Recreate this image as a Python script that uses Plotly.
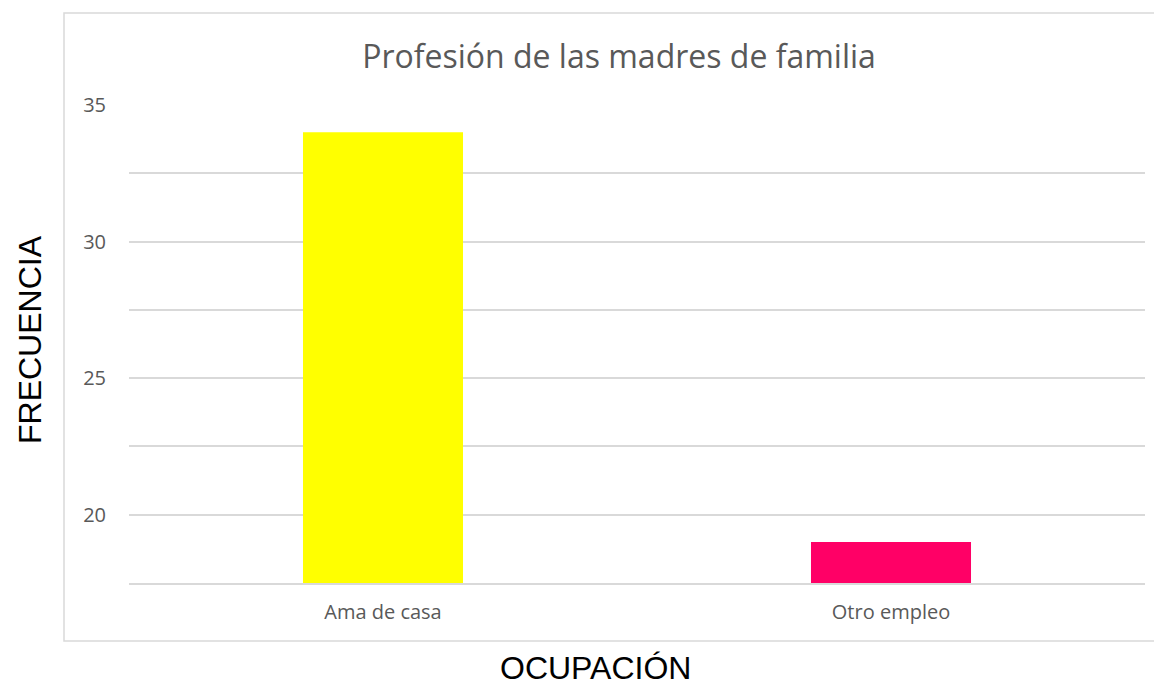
import plotly.graph_objects as go

categories = ["Ama de casa", "Otro empleo"]
values = [34, 19]
colors = ["#FFFF00", "#FF0066"]
y_ticks = [20, 25, 30, 35]

OFF = 8  # page body margin
W, H = 1162 - OFF, 686 - OFF
L, R, T, B = 129 - OFF, 1145 - OFF, 105 - OFF, 583 - OFF
pw, ph = R - L, B - T

def px(x):
    return (x - OFF - L) / pw

def py(y):
    return (B - (y - OFF)) / ph

fig = go.Figure(go.Bar(
    x=categories, y=values, marker=dict(color=colors, line=dict(width=0)),
    width=0.315, showlegend=False, hoverinfo="x+y"))

fig.update_layout(
    width=W, height=H,
    margin=dict(l=L, r=W - R, t=T, b=H - B, autoexpand=False),
    paper_bgcolor="white", plot_bgcolor="white",
    font=dict(family="Open Sans", color="#595959"),
    title=dict(text="Profesión de las madres de familia", xref="container", yref="container",
               x=(619 - OFF) / W, y=1 - (57 - OFF) / H, xanchor="center", yanchor="middle",
               font=dict(family="Open Sans", size=32, color="#595959")),
    xaxis=dict(showgrid=False, showline=True, linecolor="#D9D9D9", linewidth=1.5,
               ticks="", tickfont=dict(size=20, color="#595959"), ticklabelstandoff=10,
               fixedrange=True),
    yaxis=dict(range=[17.5, 35], tickvals=y_ticks, showgrid=True, gridcolor="#D9D9D9",
               gridwidth=1.5, zeroline=False, showline=False, ticks="",
               tickfont=dict(size=20, color="#595959"), ticklabelstandoff=22,
               minor=dict(dtick=2.5, tick0=17.5, showgrid=True, gridcolor="#D9D9D9", gridwidth=1.5)),
    shapes=[dict(type="rect", xref="paper", yref="paper",
                 x0=px(64), x1=px(1300), y0=py(641), y1=py(13),
                 line=dict(color="#D9D9D9", width=1.5), fillcolor="rgba(0,0,0,0)", layer="below")],
    annotations=[
        dict(text="FRECUENCIA", xref="paper", yref="paper", x=px(30), y=py(340),
             showarrow=False, textangle=-90, xanchor="center", yanchor="middle",
             font=dict(family="Liberation Sans", size=32, color="#000000")),
        dict(text="OCUPACIÓN", xref="paper", yref="paper", x=px(595), y=py(668),
             showarrow=False, xanchor="center", yanchor="middle",
             font=dict(family="Liberation Sans", size=32, color="#000000")),
    ],
)

fig.write_html("out.html")
